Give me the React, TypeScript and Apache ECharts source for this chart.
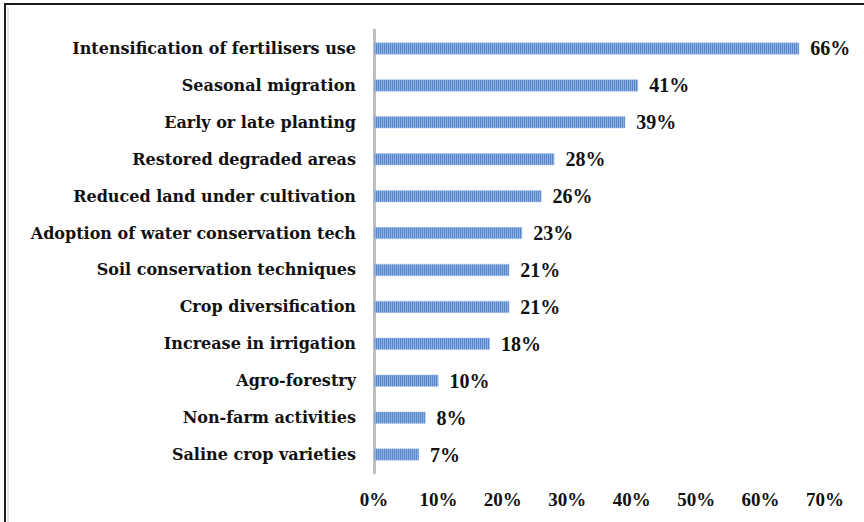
import React, { useEffect, useRef } from "react";
import * as echarts from "echarts";

const categories = [
  "Intensification of fertilisers use",
  "Seasonal migration",
  "Early or late planting",
  "Restored degraded areas",
  "Reduced land under cultivation",
  "Adoption of water conservation tech",
  "Soil conservation techniques",
  "Crop diversification",
  "Increase in irrigation",
  "Agro-forestry",
  "Non-farm activities",
  "Saline crop varieties",
];
const values = [66, 41, 39, 28, 26, 23, 21, 21, 18, 10, 8, 7];
const xTicks = [0, 10, 20, 30, 40, 50, 60, 70];

function makePattern(): string {
  const c = document.createElement("canvas");
  c.width = 2;
  c.height = 2;
  const ctx = c.getContext("2d")!;
  ctx.fillStyle = "#8fb1e1";
  ctx.fillRect(0, 0, 2, 2);
  ctx.fillStyle = "#5585cc";
  ctx.fillRect(0, 0, 1, 2);
  return c.toDataURL();
}

export default function App() {
  const ref = useRef<HTMLDivElement>(null);
  useEffect(() => {
    if (!ref.current) return;
    const chart = echarts.init(ref.current, undefined, { renderer: "svg" });
    const font = "'Liberation Serif', 'Times New Roman', serif";
    const catFont = "'DejaVu Serif', 'Liberation Serif', serif";
    const patternSrc = makePattern();
    const img = new Image();
    img.src = patternSrc;
    const cats = [...categories].reverse();
    const vals = [...values].reverse();
    chart.setOption({
      animation: false,
      backgroundColor: "#ffffff",
      graphic: [
        {
          type: "rect",
          shape: { x: 5, y: 4, width: 1000, height: 1000 },
          style: { fill: "none", stroke: "#1a1a1a", lineWidth: 2 },
          silent: true,
        },
        {
          type: "line",
          shape: { x1: 8, y1: 7, x2: 8, y2: 1000 },
          style: { stroke: "#c8c8c8", lineWidth: 1 },
          silent: true,
        },
      ],
      grid: { left: 374, top: 30, width: 451, height: 443, containLabel: false },
      xAxis: {
        type: "value",
        min: 0,
        max: 70,
        interval: 10,
        splitLine: { show: false },
        axisLine: { show: false },
        axisTick: { show: false },
        axisLabel: {
          formatter: (v: number) => (xTicks.includes(v) ? v + "%" : ""),
          fontFamily: font,
          fontWeight: "bold",
          fontSize: 19,
          color: "#111",
          margin: 17,
        },
      },
      yAxis: {
        type: "category",
        data: cats,
        axisLine: { show: true, lineStyle: { color: "#bfbfbf", width: 3 } },
        axisTick: { show: false },
        axisLabel: {
          fontFamily: catFont,
          fontWeight: "bold",
          fontSize: 16,
          color: "#111",
          margin: 18,
        },
      },
      series: [
        {
          type: "bar",
          data: vals,
          barWidth: 12,
          itemStyle: {
            color: { image: img, repeat: "repeat" },
            borderColor: "#a9c3e8",
            borderWidth: 0.5,
          },
          label: {
            show: true,
            position: "right",
            distance: 11,
            formatter: (p: any) => p.value + "%",
            fontFamily: font,
            fontWeight: "bold",
            fontSize: 20,
            color: "#111",
          },
        },
      ],
    });
    return () => chart.dispose();
  }, []);
  return (
    <div
      ref={ref}
      style={{ position: "fixed", left: 0, top: 0, width: 864, height: 522 }}
    />
  );
}
